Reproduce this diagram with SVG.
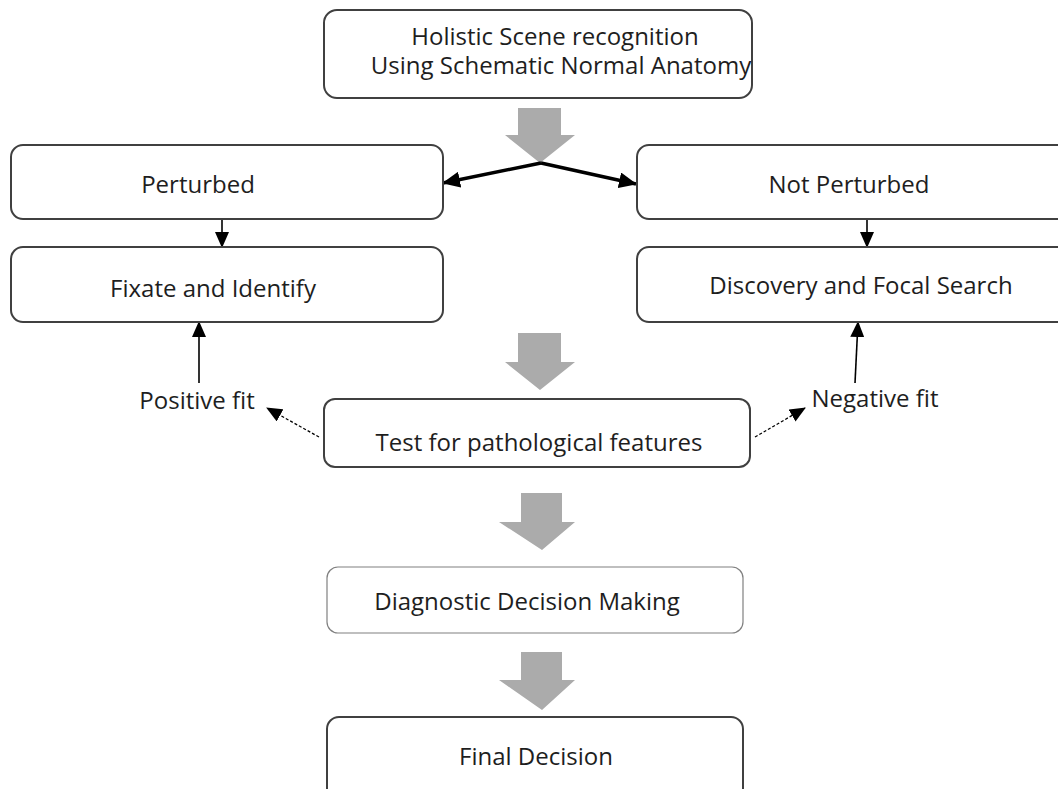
<svg xmlns="http://www.w3.org/2000/svg" width="1058" height="789" viewBox="0 0 1058 789">
<style>
.box{fill:#fff;stroke:#404040;stroke-width:2}
.thin{fill:#fff;stroke:#808080;stroke-width:1.2}
.t{font-family:"Open Sans","Liberation Sans",sans-serif;font-size:24px;fill:#1e1e1e;text-anchor:middle}
.big{fill:#ababab;stroke:none}
.ln{stroke:#000;stroke-width:1.6;fill:none}
.thick{stroke:#000;stroke-width:3.5;fill:none}
.dash{stroke:#000;stroke-width:1.3;stroke-dasharray:3 2;fill:none}
</style>
<defs>
<marker id="ah" markerUnits="userSpaceOnUse" markerWidth="16" markerHeight="14" refX="15" refY="7" orient="auto">
<path d="M0,0 L16,7 L0,14 Z" fill="#000"/>
</marker>
<marker id="ahb" markerUnits="userSpaceOnUse" markerWidth="18" markerHeight="16" refX="17" refY="8" orient="auto">
<path d="M0,0 L18,8 L0,16 Z" fill="#000"/>
</marker>
</defs>
<rect width="1058" height="789" fill="#fff"/>
<g id="fat-arrows">
<polygon class="big" points="518,108 561,108 561,135 575,135 540,163 505,135 518,135"/>
<polygon class="big" points="518,333 561,333 561,362 575,362 540,390 505,362 518,362"/>
<polygon class="big" points="521,493 562,493 562,522 575,522 542,550 499,522 521,522"/>
<polygon class="big" points="521,652 562,652 562,680 575,680 542,710 499,680 521,680"/>
</g>
<g id="connectors">
<line class="thick" x1="541" y1="163" x2="443" y2="183" marker-end="url(#ahb)"/>
<line class="thick" x1="541" y1="163" x2="636" y2="184" marker-end="url(#ahb)"/>
<line class="ln" x1="222" y1="219" x2="222" y2="247" marker-end="url(#ah)"/>
<line class="ln" x1="867" y1="219" x2="867" y2="247" marker-end="url(#ah)"/>
<line class="ln" x1="199" y1="383" x2="199" y2="322" marker-end="url(#ah)"/>
<line class="ln" x1="855" y1="383" x2="858" y2="322" marker-end="url(#ah)"/>
<line class="dash" x1="319" y1="437" x2="267" y2="408" marker-end="url(#ah)"/>
<line class="dash" x1="755" y1="437" x2="805" y2="408" marker-end="url(#ah)"/>
</g>
<g id="n-holistic">
<rect class="box" x="324" y="10" width="428" height="88" rx="13"/>
<text class="t" x="555" y="45">Holistic Scene recognition</text>
<text class="t" x="561" y="74">Using Schematic Normal Anatomy</text>
</g>
<g id="n-perturbed">
<rect class="box" x="11" y="145" width="432" height="74" rx="12"/>
<text class="t" x="198" y="193">Perturbed</text>
</g>
<g id="n-notperturbed">
<rect class="box" x="637" y="145" width="440" height="74" rx="12"/>
<text class="t" x="849" y="193">Not Perturbed</text>
</g>
<g id="n-fixate">
<rect class="box" x="11" y="247" width="432" height="75" rx="12"/>
<text class="t" x="213" y="297">Fixate and Identify</text>
</g>
<g id="n-discovery">
<rect class="box" x="637" y="247" width="440" height="75" rx="12"/>
<text class="t" x="861" y="294">Discovery and Focal Search</text>
</g>
<g id="n-positive">
<text class="t" x="197" y="409">Positive fit</text>
</g>
<g id="n-negative">
<text class="t" x="875" y="407">Negative fit</text>
</g>
<g id="n-test">
<rect class="box" x="324" y="399" width="426" height="68" rx="11"/>
<text class="t" x="539" y="451">Test for pathological features</text>
</g>
<g id="n-diagnostic">
<rect class="thin" x="327" y="567" width="416" height="66" rx="11"/>
<text class="t" x="527" y="610">Diagnostic Decision Making</text>
</g>
<g id="n-final">
<rect class="box" x="327" y="717" width="416" height="90" rx="12"/>
<text class="t" x="536" y="765">Final Decision</text>
</g>
</svg>
